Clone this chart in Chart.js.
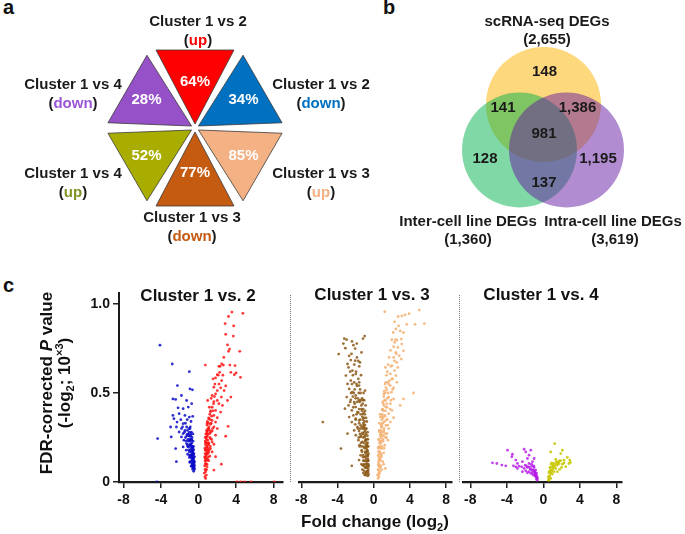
<!DOCTYPE html>
<html>
<head>
<meta charset="utf-8">
<script src="https://cdn.jsdelivr.net/npm/chart.js@4.4.0/dist/chart.umd.min.js"></script>
<style>
  body { margin: 0; background: #fff; }
  #fig { position: relative; width: 685px; height: 534px; overflow: hidden; background: #fff;
         font-family: "Liberation Sans", Arial, sans-serif; font-weight: bold; color: #111; }
  canvas { position: absolute; }
  .t { position: absolute; white-space: nowrap; text-align: center; }
  .t sub, .t sup { font-size: 11px; line-height: 0; }
  .div-line { position: absolute; width: 0; border-left: 1px dotted #777; }
</style>
</head>
<body>
<div id="fig">
  <div class="t" style="left:3px;top:-4px;font-size:20px;">a</div>
  <div class="t" style="left:383px;top:-4px;font-size:20px;">b</div>
  <div class="t" style="left:3px;top:274px;font-size:20px;">c</div>

  <canvas id="panelA" width="400" height="250" style="left:0;top:0"></canvas>
  <canvas id="panelB" width="345" height="250" style="left:340px;top:0"></canvas>

  <canvas id="volc1" width="230" height="264" style="left:60px;top:270px"></canvas>
  <canvas id="volc2" width="168" height="264" style="left:291px;top:270px"></canvas>
  <canvas id="volc3" width="225" height="264" style="left:460px;top:270px"></canvas>

  <div class="div-line" style="left:290px;top:295px;height:187px"></div>
  <div class="div-line" style="left:459px;top:295px;height:187px"></div>

  <div class="t" style="left:98px;top:286px;width:200px;font-size:17px;line-height:20px">Cluster 1 vs. 2</div>
  <div class="t" style="left:272px;top:285px;width:200px;font-size:17px;line-height:20px">Cluster 1 vs. 3</div>
  <div class="t" style="left:441px;top:285px;width:200px;font-size:17px;line-height:20px">Cluster 1 vs. 4</div>
  <div class="t" style="left:275px;top:512px;width:200px;font-size:17px;line-height:20px">Fold change (log<sub>2</sub>)</div>
  <div class="t" style="left:-54px;top:365px;width:220px;font-size:17px;line-height:18px;transform:rotate(-90deg)">FDR-corrected <i>P</i> value<br>(-log<sub>2</sub>; 10<sup>×3</sup>)</div>
</div>

<script>
const FONT = '"Liberation Sans", Arial, sans-serif';

// ---- panel a: share of DEGs per comparison ----
const triNames = ['Cluster 1 vs 2', 'Cluster 1 vs 2', 'Cluster 1 vs 3', 'Cluster 1 vs 3', 'Cluster 1 vs 4', 'Cluster 1 vs 4'];
const triDirs = ['up', 'down', 'up', 'down', 'up', 'down'];
const triPct = [64, 34, 85, 77, 52, 28];

// ---- panel b: Venn counts ----
const vennSets = ['scRNA-seq DEGs', 'Inter-cell line DEGs', 'Intra-cell line DEGs'];
const vennTotals = [2655, 1360, 3619];
// regions: scRNA only, scRNA∩inter, scRNA∩intra, all three, inter only, intra only, inter∩intra
const vennRegions = [148, 141, 1386, 981, 128, 1195, 137];

// ---- panel c: volcano plots (log2 fold change, FDR-corrected P) ----
const xTickVals = [-8, -4, 0, 4, 8];
const xTickLabels = ['-8', '-4', '0', '4', '8'];
const yTickVals = [0, 0.5, 1.0];
const yTickLabels = ['0', '0.5', '1.0'];

const c12Down = [[-4.11,0.769],[-2.8,0.663],[-0.98,0.62],[-2.25,0.542],[-0.91,0.523],[-0.65,0.518],[-2.73,0.467],[-2.44,0.464],[-1.82,0.486],[-0.73,0.44],[-1.27,0.458],[-2.18,0.417],[-1.64,0.412],[-1.09,0.421],[-2.73,0.374],[-2.07,0.384],[-1.45,0.374],[-0.98,0.365],[-2.62,0.356],[-1.89,0.35],[-0.62,0.369],[-2.29,0.337],[-1.64,0.328],[-2.98,0.309],[-2.36,0.309],[-1.27,0.309],[-1.82,0.3],[-1.45,0.29],[-0.91,0.3],[-2.07,0.281],[-1.64,0.272],[-1.2,0.268],[-2.91,0.253],[-1.82,0.253],[-1.38,0.25],[-0.91,0.257],[-4.36,0.244],[-1.56,0.235],[-1.09,0.231],[-0.73,0.238],[-1.27,0.216],[-0.84,0.212],[-2.44,0.188],[-1.64,0.197],[-1.09,0.197],[-0.65,0.197],[-1.31,0.179],[-0.98,0.169],[-0.62,0.175],[-1.16,0.156],[-0.84,0.151],[-0.55,0.156],[-0.98,0.138],[-0.69,0.132],[-0.44,0.142],[-2.36,0.114],[-0.91,0.114],[-0.62,0.104],[-0.44,0.114],[-0.73,0.089],[-0.51,0.086],[-0.62,0.071],[-0.44,0.076],[-0.6,0.13],[-0.7,0.15],[-0.8,0.17],[-0.5,0.12],[-0.65,0.1],[-0.9,0.2],[-0.55,0.16],[-0.75,0.12],[-0.6,0.19],[-1.0,0.23],[-0.7,0.22],[-0.85,0.26],[-0.5,0.14],[-0.58,0.09],[-1.1,0.27],[-0.95,0.15],[-1.2,0.21],[-0.68,0.18],[-0.78,0.24],[-0.48,0.1],[-0.52,0.18],[-0.72,0.14],[-0.88,0.18],[-0.62,0.12],[-0.56,0.08],[-4.45,0],
  [-0.45,0.07],[-0.5,0.09],[-0.47,0.11],[-0.53,0.13],[-0.57,0.1],[-0.6,0.15],[-0.66,0.13],[-0.63,0.17],[-0.71,0.16],[-0.74,0.19],[-0.67,0.2],[-0.81,0.21],[-0.77,0.15],[-0.86,0.23],[-0.92,0.24],[-0.83,0.27],[-0.97,0.28],[-1.05,0.26],[-1.12,0.24],[-1.02,0.3],[-1.18,0.29],[-1.25,0.26],[-0.54,0.2],[-0.5,0.16],[-0.58,0.23],[-0.69,0.25],[-0.76,0.28],[-0.88,0.31],[-0.95,0.21],[-1.05,0.18],[-0.44,0.09],[-0.52,0.06],[-0.61,0.08],[-0.7,0.11],[-0.79,0.09],[-0.85,0.14],[-0.93,0.11],[-1.15,0.2],[-1.35,0.23],[-1.5,0.28],[-1.4,0.33],[-1.7,0.31],[-1.2,0.35],[-0.8,0.34],[-0.6,0.27]];
const c12Up = [[3.56,0.955],[4.73,0.948],[3.2,0.93],[2.84,0.89],[3.75,0.877],[2.9,0.83],[3.71,0.82],[3.09,0.77],[3.31,0.747],[3.2,0.734],[4.4,0.734],[0.73,0.657],[2.18,0.65],[2.47,0.663],[2.65,0.657],[3.35,0.657],[3.89,0.654],[3.45,0.616],[3.82,0.603],[4.0,0.613],[4.47,0.588],[2.25,0.616],[2.0,0.603],[1.82,0.585],[2.47,0.57],[2.18,0.55],[1.64,0.533],[2.36,0.529],[2.0,0.514],[2.73,0.514],[2.9,0.54],[1.82,0.495],[1.45,0.486],[2.44,0.477],[3.45,0.477],[3.09,0.458],[2.0,0.458],[1.64,0.452],[0.98,0.458],[2.18,0.44],[2.55,0.43],[1.45,0.42],[1.82,0.402],[1.27,0.393],[2.36,0.393],[1.64,0.374],[2.0,0.361],[1.09,0.356],[1.45,0.346],[1.82,0.337],[0.91,0.331],[1.27,0.324],[1.64,0.309],[1.09,0.3],[3.16,0.313],[2.0,0.3],[1.45,0.287],[0.91,0.281],[1.2,0.272],[1.82,0.263],[2.9,0.257],[0.84,0.253],[1.27,0.244],[0.98,0.235],[1.45,0.225],[0.73,0.22],[1.09,0.212],[1.64,0.212],[0.91,0.197],[1.27,0.188],[0.73,0.179],[1.09,0.169],[1.45,0.169],[0.84,0.156],[1.2,0.145],[0.73,0.132],[0.98,0.123],[1.82,0.142],[2.44,0.1],[0.73,0.104],[0.91,0.086],[1.64,0.067],[0.76,0.058],[0.84,0.039],[0.76,0.02],[0.8,0.15],[0.9,0.17],[1.0,0.19],[0.75,0.21],[0.85,0.24],[1.1,0.22],[0.95,0.26],[1.05,0.14],[0.8,0.12],[0.9,0.1],[1.15,0.18],[1.2,0.25],[0.78,0.27],[1.0,0.3],[0.88,0.2],[1.3,0.28],[1.35,0.33],[1.1,0.36],[0.95,0.34],[0.7,0.16],[0.82,0.18],[0.72,0.25],[0.92,0.13],[1.02,0.21],[0.86,0.29],[0.7,0.07],[4.1,0],[4.5,0],[4.9,0],[5.6,0],[8.1,0],
  [0.62,0.05],[0.66,0.09],[0.7,0.12],[0.65,0.14],[0.74,0.18],[0.68,0.19],[0.77,0.14],[0.83,0.22],[0.72,0.23],[0.8,0.25],[0.88,0.27],[0.93,0.22],[0.97,0.29],[1.03,0.27],[0.9,0.32],[1.06,0.33],[1.12,0.31],[1.18,0.29],[1.2,0.38],[1.25,0.35],[1.3,0.4],[1.4,0.37],[1.15,0.42],[0.87,0.16],[0.95,0.18],[1.02,0.16],[0.79,0.1],[0.86,0.07],[0.68,0.03],[0.75,0.07],[1.08,0.12],[1.25,0.2],[1.38,0.24],[1.5,0.3],[1.55,0.4],[1.6,0.44],[1.35,0.47],[1.7,0.48],[1.75,0.55],[1.55,0.58],[2.1,0.6],[2.3,0.65],[2.6,0.6],[2.7,0.7]];
const c13Down = [[-3.25,0.806],[-1.18,0.806],[-3.35,0.778],[-3.13,0.752],[-1.87,0.778],[-2.24,0.769],[-1.35,0.728],[-3.87,0.719],[-2.71,0.709],[-2.89,0.663],[-2.05,0.682],[-2.53,0.685],[-1.51,0.672],[-2.78,0.644],[-2.35,0.626],[-3.07,0.598],[-1.98,0.607],[-2.53,0.57],[-2.89,0.551],[-2.16,0.56],[-1.62,0.542],[-2.71,0.523],[-2.35,0.505],[-0.96,0.514],[-1.98,0.486],[-2.98,0.477],[-2.53,0.462],[-2.16,0.449],[-1.62,0.458],[-2.78,0.43],[-1.98,0.421],[-2.42,0.402],[-3.18,0.412],[-1.8,0.393],[-1.44,0.38],[-2.25,0.374],[-2.71,0.365],[-1.98,0.356],[-1.62,0.346],[-1.25,0.365],[-2.42,0.337],[-2.05,0.324],[-1.44,0.318],[-1.8,0.309],[-1.07,0.309],[-2.16,0.29],[-1.62,0.287],[-1.25,0.276],[-1.98,0.263],[-1.44,0.253],[-1.0,0.253],[-2.89,0.272],[-1.69,0.235],[-1.25,0.225],[-0.89,0.235],[-1.56,0.207],[-1.07,0.197],[-0.78,0.201],[-1.33,0.179],[-0.96,0.169],[-0.71,0.175],[-3.62,0.188],[-1.18,0.151],[-0.89,0.142],[-0.67,0.145],[-1.62,0.123],[-1.07,0.119],[-0.78,0.114],[-0.6,0.119],[-2.42,0.091],[-1.25,0.095],[-0.89,0.086],[-0.64,0.08],[-1.07,0.063],[-0.78,0.058],[-0.6,0.048],[-0.89,0.039],[-0.67,0.034],[-5.62,0.337],[-0.7,0.1],[-0.8,0.13],[-0.9,0.16],[-1.0,0.19],[-1.1,0.22],[-0.75,0.21],[-0.65,0.15],[-0.85,0.24],[-1.2,0.27],[-0.95,0.29],[-1.3,0.31],[-0.7,0.26],[-0.6,0.07],[-0.9,0.05],[-1.15,0.12],[-1.4,0.22],[-1.5,0.3],[-1.3,0.17],[-1.1,0.09],[-0.8,0.3],[-1.6,0.33],[-1.7,0.39],[-1.35,0.41],[-0.9,0.43],[-2.0,0.47],[-1.2,0.46],[-1.45,0.5],[-1.85,0.54],[-2.3,0.6],[-1.7,0.58],[-0.62,0.12],[-0.72,0.18],[-0.82,0.08],[-1.02,0.14],[-1.12,0.32],[-0.98,0.38],[-1.52,0.27],[-0.66,0.22],[-0.76,0.34],[-1.82,0.45],[-2.1,0.52],[-1.4,0.6],[-2.6,0.62],[-1.6,0.65],
  [-0.58,0.04],[-0.62,0.06],[-0.66,0.09],[-0.6,0.1],[-0.7,0.12],[-0.64,0.13],[-0.74,0.15],[-0.68,0.17],[-0.78,0.17],[-0.72,0.2],[-0.83,0.19],[-0.77,0.22],[-0.88,0.21],[-0.8,0.24],[-0.93,0.23],[-0.86,0.27],[-0.97,0.26],[-0.9,0.3],[-1.03,0.28],[-0.96,0.32],[-1.08,0.3],[-1.01,0.34],[-1.14,0.33],[-1.06,0.36],[-1.19,0.35],[-1.1,0.39],[-1.24,0.38],[-1.16,0.41],[-1.3,0.4],[-1.22,0.44],[-1.36,0.43],[-1.28,0.47],[-1.42,0.46],[-1.55,0.45],[-1.5,0.52],[-1.65,0.5],[-1.75,0.47],[-1.6,0.56],[-1.9,0.55],[-2.2,0.5],[-1.95,0.62],[-2.15,0.66],[-2.4,0.55],[-2.25,0.42],[-1.9,0.38],[-1.75,0.3],[-1.65,0.25],[-1.55,0.2],[-1.45,0.15],[-1.35,0.1],[-1.25,0.07],[-1.15,0.05],[-1.0,0.04],[-0.85,0.1],[-0.95,0.12],[-1.05,0.1],[-1.2,0.14],[-1.3,0.2],[-1.4,0.26],[-1.5,0.35],[-1.6,0.41],[-1.15,0.25],[-1.25,0.3],[-0.75,0.06],[-0.68,0.28],[-0.63,0.24],[-0.84,0.36],[-0.95,0.4],[-1.05,0.46],[-1.12,0.5],[-0.82,0.05],[-0.93,0.08],[-0.57,0.16],[-0.6,0.2],[-0.55,0.09],[-2.0,0.35],[-2.1,0.44],[-2.3,0.48],[-2.5,0.5],[-2.6,0.45],[-1.85,0.7],[-2.45,0.72],[-2.05,0.75],[-1.7,0.68],[-3.0,0.8],[-2.4,0.79],[-1.0,0.82]];
const c13Up = [[1.22,0.957],[3.11,0.933],[3.47,0.939],[3.91,0.946],[5.04,0.966],[4.56,0.886],[2.75,0.877],[3.65,0.886],[2.93,0.849],[3.29,0.84],[2.56,0.797],[3.04,0.803],[2.31,0.784],[3.11,0.775],[2.67,0.756],[3.29,0.737],[2.45,0.728],[2.82,0.709],[2.2,0.7],[3.04,0.691],[2.56,0.672],[2.02,0.654],[2.67,0.644],[2.31,0.626],[1.29,0.644],[1.84,0.607],[2.45,0.598],[2.09,0.579],[1.58,0.56],[2.56,0.56],[1.84,0.542],[2.2,0.529],[1.44,0.518],[1.96,0.505],[1.11,0.495],[3.29,0.467],[1.65,0.477],[2.2,0.467],[1.29,0.458],[1.84,0.44],[2.93,0.43],[1.47,0.421],[0.93,0.406],[2.02,0.402],[1.65,0.384],[1.22,0.374],[0.75,0.365],[2.2,0.361],[1.47,0.35],[1.84,0.337],[1.02,0.331],[1.35,0.318],[0.84,0.309],[1.65,0.3],[1.11,0.29],[0.64,0.281],[1.47,0.272],[0.93,0.263],[1.29,0.25],[0.56,0.238],[1.04,0.231],[1.58,0.235],[0.75,0.216],[1.22,0.207],[0.5,0.194],[0.93,0.188],[0.64,0.169],[1.11,0.164],[0.5,0.151],[0.85,0.142],[0.56,0.123],[1.0,0.114],[0.5,0.095],[0.75,0.086],[1.29,0.076],[0.5,0.067],[0.64,0.048],[0.45,0.039],[0.6,0.1],[0.7,0.13],[0.8,0.16],[0.9,0.2],[1.0,0.24],[0.65,0.22],[0.75,0.27],[0.55,0.17],[1.1,0.28],[0.85,0.31],[1.2,0.34],[0.95,0.37],[1.3,0.4],[1.45,0.44],[1.0,0.45],[1.6,0.5],[1.35,0.53],[1.75,0.57],[0.7,0.06],[0.8,0.09],[1.15,0.19],[0.6,0.29],[1.4,0.25],[1.55,0.32],[1.9,0.46],[2.1,0.52],[2.3,0.68],[2.5,0.72],[2.0,0.58],[1.8,0.41],[5.6,0.89],[4.4,0.5],
  [0.46,0.04],[0.5,0.07],[0.55,0.05],[0.52,0.11],[0.58,0.09],[0.56,0.14],[0.62,0.13],[0.6,0.17],[0.67,0.16],[0.64,0.2],[0.72,0.19],[0.69,0.23],[0.77,0.22],[0.73,0.26],[0.82,0.25],[0.78,0.29],[0.87,0.28],[0.83,0.32],[0.92,0.31],[0.88,0.35],[0.97,0.33],[0.93,0.38],[1.03,0.36],[0.99,0.41],[1.08,0.4],[1.05,0.44],[1.14,0.43],[1.12,0.48],[1.2,0.46],[1.18,0.51],[1.27,0.5],[1.25,0.55],[1.34,0.56],[1.42,0.6],[1.5,0.62],[1.6,0.66],[1.7,0.7],[1.85,0.74],[2.0,0.8],[2.15,0.84],[2.3,0.9],[2.45,0.86],[2.7,0.93],[1.9,0.65],[2.2,0.76],[2.4,0.8],[0.55,0.24],[0.62,0.33],[0.7,0.38],[0.66,0.08],[0.75,0.12],[0.85,0.15],[0.95,0.23],[1.05,0.26],[1.15,0.3],[1.25,0.37],[1.35,0.42],[1.5,0.47],[1.65,0.55],[1.45,0.35],[1.3,0.27],[0.48,0.02],[0.58,0.03],[0.53,0.19],[0.9,0.07],[1.1,0.1]];
const c14Down = [[-3.93,0.179],[-5.57,0.108],[-5.1,0.104],[-4.55,0.095],[-4.12,0.091],[-3.39,0.156],[-3.46,0.142],[-3.02,0.123],[-2.11,0.184],[-1.93,0.169],[-1.38,0.179],[-1.57,0.151],[-1.75,0.132],[-2.84,0.104],[-3.28,0.091],[-2.66,0.089],[-2.3,0.114],[-1.2,0.114],[-1.02,0.132],[-2.37,0.085],[-2.0,0.095],[-1.57,0.104],[-1.28,0.089],[-2.11,0.076],[-1.75,0.082],[-1.38,0.071],[-1.02,0.082],[-0.84,0.067],[-1.93,0.063],[-1.57,0.058],[-1.2,0.052],[-0.91,0.045],[-0.73,0.034],[-0.66,0.02],[-2.3,0.058],[-2.84,0.076],[-0.84,0.03],[-1.13,0.04],[-1.38,0.048],[-1.75,0.052],[-0.77,0.017],[-0.95,0.058],[-3.02,0.085],
  [-0.7,0.025],[-0.8,0.04],[-0.9,0.05],[-1.0,0.06],[-1.1,0.07],[-1.25,0.065],[-1.45,0.075],[-1.6,0.085],[-1.85,0.09],[-0.75,0.05],[-0.95,0.035],[-1.05,0.09],[-1.3,0.1],[-0.68,0.01]];
const c14Up = [[1.24,0.216],[0.8,0.169],[2.08,0.179],[1.9,0.16],[2.62,0.138],[2.88,0.123],[2.26,0.123],[1.71,0.119],[1.42,0.114],[1.17,0.104],[0.91,0.108],[1.53,0.095],[2.08,0.1],[2.44,0.086],[0.98,0.086],[1.35,0.076],[1.78,0.071],[0.8,0.067],[1.17,0.058],[0.62,0.052],[0.98,0.045],[0.55,0.03],[0.8,0.02],[0.62,0.011],[1.53,0.058],[1.99,0.082],[2.26,0.108],[1.71,0.104],[1.06,0.095],[0.73,0.082],[1.35,0.127],[2.8,0.104],[2.95,0.11],
  [0.6,0.02],[0.7,0.035],[0.8,0.05],[0.9,0.06],[1.0,0.07],[1.1,0.08],[1.25,0.09],[1.45,0.1],[0.65,0.06],[0.75,0.08],[0.85,0.1],[1.6,0.11],[1.9,0.12],[0.55,0.01]];

// ---- layout (pixels) ----
const hexCenter = [195, 128];
const triApex = 4, triBase = 78, triHalf = 39;
const pctDist = [46, 56, 56, 45, 56, 56];
const outerPos = [[198, 22], [321, 85], [321, 174], [192, 218], [73, 174], [73, 85]];
const triColors = ['#FF0000', '#0070C0', '#F4B183', '#C55A11', '#A9AD00', '#9650C8'];
const dirColors = ['#FF0000', '#0070C0', '#F4B183', '#C55A11', '#7F9424', '#9B55D8'];

const vennCenters = [[203.5, 104.5], [179.5, 150], [226.5, 150]];
const vennRadius = 57.5;
const vennColors = ['rgba(254,190,36,0.6)', 'rgba(0,177,75,0.5)', 'rgba(101,25,161,0.5)'];
const vennLabelPos = [[207, 22], [128, 222], [273, 222]];
const vennTotalPos = [[207, 40], [128, 240], [275, 240]];
const vennRegionPos = [[204.5, 72], [163, 108], [237.5, 108], [204, 134], [145, 159], [258, 159], [204, 183]];

const pxScales = (w, h) => ({
  x: { type: 'linear', min: 0, max: w, display: false },
  y: { type: 'linear', min: 0, max: h, reverse: true, display: false }
});
const baseOpts = {
  responsive: false,
  animation: false,
  events: [],
  layout: { padding: 0, autoPadding: false },
  plugins: { legend: { display: false }, tooltip: { enabled: false } }
};

// triangle vertices from the category index (direction 90° - 60°·i)
function triangle(i) {
  const th = (90 - 60 * i) * Math.PI / 180;
  const dx = Math.cos(th), dy = -Math.sin(th);
  const px = Math.sin(th), py = Math.cos(th);
  const [cx, cy] = hexCenter;
  const apex = { x: cx + triApex * dx, y: cy + triApex * dy };
  return [apex,
    { x: cx + triBase * dx + triHalf * px, y: cy + triBase * dy + triHalf * py },
    { x: cx + triBase * dx - triHalf * px, y: cy + triBase * dy - triHalf * py },
    apex];
}

const triLabels = {
  id: 'triLabels',
  afterDatasetsDraw(chart) {
    const { ctx, scales: { x, y } } = chart;
    ctx.save();
    ctx.textBaseline = 'middle';
    ctx.font = 'bold 15px ' + FONT;
    triPct.forEach((p, i) => {
      const th = (90 - 60 * i) * Math.PI / 180;
      ctx.textAlign = 'center';
      ctx.fillStyle = '#fff';
      ctx.fillText(p + '%', x.getPixelForValue(hexCenter[0] + pctDist[i] * Math.cos(th)),
                            y.getPixelForValue(hexCenter[1] - pctDist[i] * Math.sin(th)));
      const lx = x.getPixelForValue(outerPos[i][0]), ly = y.getPixelForValue(outerPos[i][1]);
      ctx.fillStyle = '#1a1a1a';
      ctx.fillText(triNames[i], lx, ly);
      // "(up)" / "(down)" with the word in the triangle's colour
      const parts = [['(', '#1a1a1a'], [triDirs[i], dirColors[i]], [')', '#1a1a1a']];
      const total = parts.reduce((s, q) => s + ctx.measureText(q[0]).width, 0);
      let sx = lx - total / 2;
      ctx.textAlign = 'left';
      parts.forEach(([txt, col]) => {
        ctx.fillStyle = col;
        ctx.fillText(txt, sx, ly + 18.5);
        sx += ctx.measureText(txt).width;
      });
    });
    ctx.restore();
  }
};

new Chart(document.getElementById('panelA'), {
  type: 'scatter',
  data: {
    datasets: triPct.map((p, i) => ({
      label: triNames[i] + ' ' + triDirs[i],
      data: triangle(i),
      showLine: true,
      tension: 0,
      fill: 'shape',
      backgroundColor: triColors[i],
      borderColor: '#3a3a3a',
      borderWidth: 0.8,
      pointRadius: 0
    }))
  },
  options: { ...baseOpts, scales: pxScales(400, 250) },
  plugins: [triLabels]
});

const vennLabels = {
  id: 'vennLabels',
  afterDatasetsDraw(chart) {
    const { ctx, scales: { x, y } } = chart;
    ctx.save();
    ctx.textAlign = 'center';
    ctx.textBaseline = 'middle';
    ctx.fillStyle = '#1a1a1a';
    ctx.font = 'bold 15px ' + FONT;
    vennSets.forEach((s, i) => {
      ctx.fillText(s, x.getPixelForValue(vennLabelPos[i][0]), y.getPixelForValue(vennLabelPos[i][1]));
      ctx.fillText('(' + vennTotals[i].toLocaleString('en-US') + ')',
        x.getPixelForValue(vennTotalPos[i][0]), y.getPixelForValue(vennTotalPos[i][1]));
    });
    vennRegions.forEach((n, i) => {
      ctx.fillText(n.toLocaleString('en-US'), x.getPixelForValue(vennRegionPos[i][0]), y.getPixelForValue(vennRegionPos[i][1]));
    });
    ctx.restore();
  }
};

new Chart(document.getElementById('panelB'), {
  type: 'bubble',
  data: {
    datasets: [{
      label: 'DEG sets',
      data: vennSets.map((s, i) => ({ x: vennCenters[i][0], y: vennCenters[i][1], r: vennRadius })),
      backgroundColor: vennColors,
      borderWidth: 0
    }]
  },
  options: { ...baseOpts, scales: pxScales(345, 250) },
  plugins: [vennLabels]
});

const tickFont = { family: FONT, size: 14, weight: 'bold' };

function volcano(id, down, downColor, up, upColor, xmin, xmax, showY, padL, padR) {
  const toPts = arr => arr.map(([x, y]) => ({ x, y }));
  const pointSet = (label, arr, color) => ({
    label, data: toPts(arr), backgroundColor: color, borderWidth: 0,
    pointRadius: 1.4, pointStyle: 'circle'
  });
  new Chart(document.getElementById(id), {
    type: 'scatter',
    data: { datasets: [pointSet('down', down, downColor), pointSet('up', up, upColor)] },
    options: {
      ...baseOpts,
      layout: { padding: { left: padL, right: padR, top: 23, bottom: 0 }, autoPadding: false },
      scales: {
        x: {
          type: 'linear', min: xmin, max: xmax,
          afterBuildTicks: s => { s.ticks = xTickVals.map(v => ({ value: v })); },
          afterFit: s => { s.height = 52; },
          grid: { drawOnChartArea: false, drawTicks: true, tickLength: 6, color: '#222', lineWidth: 1.5 },
          border: { display: true, color: '#1a1a1a', width: 2.2 },
          ticks: { color: '#111', font: tickFont, padding: 4, maxRotation: 0, autoSkip: false,
                   callback: (v, i) => xTickLabels[i] }
        },
        y: {
          type: 'linear', min: 0, max: 1.062, display: showY,
          afterBuildTicks: s => { s.ticks = yTickVals.map(v => ({ value: v })); },
          afterFit: s => { s.width = showY ? 59 : 0; },
          grid: { drawOnChartArea: false, drawTicks: true, tickLength: 6, color: '#222', lineWidth: 1.5 },
          border: { display: true, color: '#1a1a1a', width: 2 },
          ticks: { color: '#111', font: tickFont, padding: 3, autoSkip: false,
                   callback: (v, i) => yTickLabels[i] }
        }
      }
    }
  });
}

volcano('volc1', c12Down, 'rgba(10,10,200,0.85)', c12Up, 'rgba(255,20,20,0.85)', -8.48, 9.01, true, 0, 7);
volcano('volc2', c13Down, 'rgba(140,90,25,0.85)', c13Up, 'rgba(245,180,120,0.9)', -8.22, 8.65, false, 5, 7);
volcano('volc3', c14Down, 'rgba(180,20,230,0.8)', c14Up, 'rgba(200,200,0,0.9)', -8.76, 8.6, false, 2, 63);
</script>
</body>
</html>
